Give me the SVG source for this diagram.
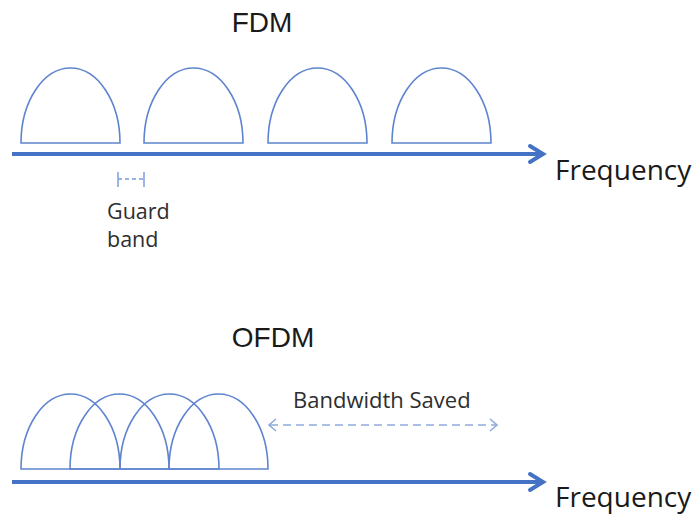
<svg xmlns="http://www.w3.org/2000/svg" width="696" height="517" viewBox="0 0 696 517">
  <defs>
    <style>
      .dome { fill: none; stroke: #5f84cf; stroke-width: 1.6; }
      .axis { fill: none; stroke: #4472c4; stroke-width: 4; }
      .axis-head { fill: none; stroke: #4472c4; stroke-width: 4; stroke-linecap: round; stroke-linejoin: miter; }
      .title { font-family: "Liberation Sans", Arial, sans-serif; font-size: 28px; fill: #1a1a1a; }
      .label { font-family: "Open Sans", "Liberation Sans", sans-serif; fill: #1a1a1a; }
      .note { font-family: "Open Sans", "Liberation Sans", sans-serif; fill: #2e2e2e; }
      .guard { fill: none; stroke: #7b9be0; stroke-width: 1.5; }
      .saved { fill: none; stroke: #8eaadc; stroke-width: 1.6; }
    </style>
    <path id="dome" d="M0,0 A49.5,75 0 0 1 99,0 Z"/>
  </defs>

  <rect width="696" height="517" fill="#ffffff"/>

  <!-- FDM: separate subcarriers with guard bands -->
  <g id="fdm-title"><text class="title" x="262" y="32" text-anchor="middle">FDM</text></g>
  <g id="fdm-carriers">
    <use href="#dome" class="dome" x="21" y="143"/>
    <use href="#dome" class="dome" x="144" y="143"/>
    <use href="#dome" class="dome" x="268" y="143"/>
    <use href="#dome" class="dome" x="392" y="143"/>
  </g>
  <g id="fdm-axis">
    <line class="axis" x1="12" y1="154" x2="541" y2="154"/>
    <path class="axis-head" d="M530,146 L543,154 L530,162"/>
    <text class="label" x="555" y="180" font-size="28">Frequency</text>
  </g>
  <g id="guard-band">
    <line class="guard" x1="118" y1="179" x2="144" y2="179" stroke-dasharray="4 3"/>
    <line class="guard" x1="118" y1="172" x2="118" y2="187"/>
    <line class="guard" x1="144" y1="172" x2="144" y2="187"/>
    <text class="note" x="107" y="219" font-size="21.5">Guard</text>
    <text class="note" x="107" y="247" font-size="21.5">band</text>
  </g>

  <!-- OFDM: overlapping orthogonal subcarriers -->
  <g id="ofdm-title"><text class="title" x="273" y="347" text-anchor="middle">OFDM</text></g>
  <g id="ofdm-carriers">
    <use href="#dome" class="dome" x="21" y="469"/>
    <use href="#dome" class="dome" x="70" y="469"/>
    <use href="#dome" class="dome" x="120" y="469"/>
    <use href="#dome" class="dome" x="169" y="469"/>
  </g>
  <g id="ofdm-axis">
    <line class="axis" x1="12" y1="482" x2="541" y2="482"/>
    <path class="axis-head" d="M530,474 L543,482 L530,490"/>
    <text class="label" x="555" y="507" font-size="28">Frequency</text>
  </g>

  <!-- spectrum freed by overlapping -->
  <g id="bandwidth-saved">
    <text class="note" x="293" y="408" font-size="22">Bandwidth Saved</text>
    <line class="saved" x1="270" y1="425" x2="496" y2="425" stroke-dasharray="8 5"/>
    <path class="saved" d="M276,419 L269,425 L276,431"/>
    <path class="saved" d="M490,419 L497,425 L490,431"/>
  </g>
</svg>
